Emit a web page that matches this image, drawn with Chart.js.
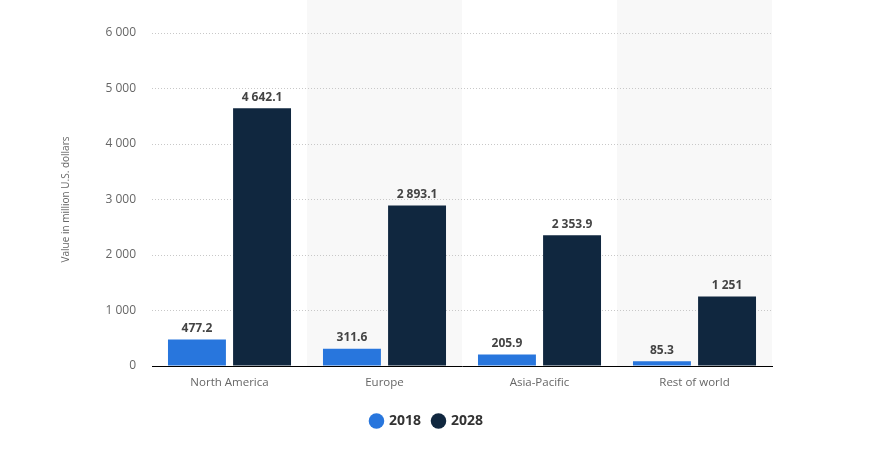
<!DOCTYPE html>
<html>
<head>
<meta charset="utf-8">
<script src="https://cdn.jsdelivr.net/npm/chart.js@4"></script>
<style>
  html, body { margin: 0; padding: 0; background: #fff; }
  #wrap { width: 870px; height: 450px; position: relative; }
</style>
</head>
<body>
<div id="wrap"><canvas id="marketChart"></canvas></div>
<script>
const regions = ['North America', 'Europe', 'Asia-Pacific', 'Rest of world'];
const years = ['2018', '2028'];
const values2018 = [477.2, 311.6, 205.9, 85.3];
const values2028 = [4642.1, 2893.1, 2353.9, 1251];
const yTicks = [0, 1000, 2000, 3000, 4000, 5000, 6000];
const yTitle = 'Value in million U.S. dollars';

function formatNum(v) {
  const parts = String(v).split('.');
  parts[0] = parts[0].replace(/\B(?=(\d{3})+(?!\d))/g, ' ');
  return parts.join('.');
}

// shaded background behind every second category
const bandPlugin = {
  id: 'bands',
  beforeDraw(chart) {
    const { ctx, chartArea, scales } = chart;
    const x = scales.x;
    const step = x.getPixelForValue(1) - x.getPixelForValue(0);
    ctx.save();
    ctx.fillStyle = '#f8f8f8';
    regions.forEach((r, i) => {
      if (i % 2 === 1) {
        const c = x.getPixelForValue(i);
        ctx.fillRect(c - step / 2, 0, step, chartArea.bottom);
      }
    });
    ctx.restore();
  }
};

// value labels above the bars + rotated axis title
const labelPlugin = {
  id: 'valueLabels',
  afterDatasetsDraw(chart) {
    const { ctx, chartArea } = chart;
    ctx.save();
    ctx.font = 'bold 12px "Open Sans", sans-serif';
    ctx.fillStyle = '#444';
    ctx.textAlign = 'center';
    ctx.textBaseline = 'bottom';
    chart.data.datasets.forEach((ds, di) => {
      chart.getDatasetMeta(di).data.forEach((bar, i) => {
        ctx.fillText(formatNum(ds.data[i]), bar.x, bar.y - 5);
      });
    });
    ctx.translate(66, (chartArea.top + chartArea.bottom) / 2);
    ctx.rotate(-Math.PI / 2);
    ctx.font = '10px "Open Sans", sans-serif';
    ctx.fillStyle = '#666';
    ctx.textBaseline = 'middle';
    ctx.fillText(yTitle, 0, 0);
    ctx.restore();
  }
};

new Chart(document.getElementById('marketChart'), {
  type: 'bar',
  data: {
    labels: regions,
    datasets: [{
      label: years[0],
      data: values2018,
      backgroundColor: '#2876dd',
      categoryPercentage: 0.84,
      barPercentage: 0.89
    }, {
      label: years[1],
      data: values2028,
      backgroundColor: '#10273f',
      categoryPercentage: 0.84,
      barPercentage: 0.89
    }]
  },
  options: {
    responsive: true,
    maintainAspectRatio: false,
    animation: false,
    layout: { padding: { left: 82, right: 98, top: 33, bottom: 12 } },
    plugins: {
      legend: {
        position: 'bottom',
        labels: {
          usePointStyle: true,
          pointStyle: 'circle',
          boxWidth: 11,
          boxHeight: 11,
          padding: 12,
          color: '#333',
          font: { family: '"Open Sans", sans-serif', size: 14, weight: 'bold' }
        }
      },
      tooltip: { enabled: false }
    },
    scales: {
      x: {
        grid: { display: false },
        border: { color: '#000', width: 1 },
        ticks: {
          color: '#666',
          padding: 2,
          font: { family: '"Open Sans", sans-serif', size: 11.5 }
        },
        afterFit(scale) { scale.height = 36; }
      },
      y: {
        min: 0,
        max: 6000,
        afterBuildTicks(scale) { scale.ticks = yTicks.map(v => ({ value: v })); },
        border: { display: false, dash: [1, 2] },
        grid: {
          color: '#c8c8c8',
          drawTicks: false
        },
        ticks: {
          color: '#666',
          padding: 16,
          font: { family: '"Open Sans", sans-serif', size: 12 },
          callback: v => formatNum(v)
        },
        afterFit(scale) { scale.width = 70; }
      }
    }
  },
  plugins: [bandPlugin, labelPlugin]
});
</script>
</body>
</html>
